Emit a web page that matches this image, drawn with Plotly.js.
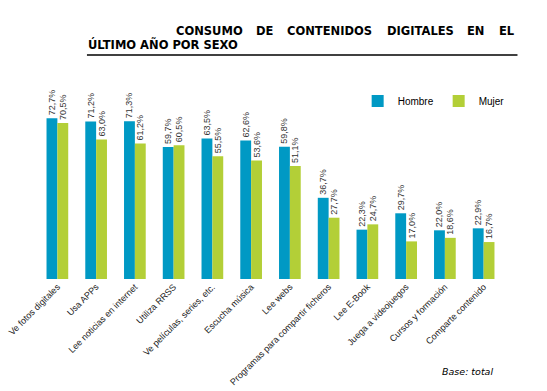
<!DOCTYPE html>
<html>
<head>
<meta charset="utf-8">
<script src="https://cdn.plot.ly/plotly-3.0.1.min.js"></script>
<style>html,body{margin:0;padding:0;background:#fff;}#chart{width:547px;height:391px;}</style>
</head>
<body>
<div id="chart"></div>
<script>
const categories = [
  "Ve fotos digitales",
  "Usa APPs",
  "Lee noticias en internet",
  "Utiliza RRSS",
  "Ve películas, series, etc.",
  "Escucha música",
  "Lee webs",
  "Programas para compartir ficheros",
  "Lee E-Book",
  "Juega a videojuegos",
  "Cursos y formación",
  "Comparte contenido"
];
const hombre = [72.7, 71.2, 71.3, 59.7, 63.5, 62.6, 59.8, 36.7, 22.3, 29.7, 22.0, 22.9];
const mujer  = [70.5, 63.0, 61.2, 60.5, 55.5, 53.6, 51.1, 27.7, 24.7, 17.0, 18.6, 16.7];
const seriesNames = ["Hombre", "Mujer"];
const titleWords = ["CONSUMO", "DE", "CONTENIDOS", "DIGITALES", "EN", "EL"];
const titleLine2 = "ÚLTIMO AÑO POR SEXO";
const baseNote = "Base: total";

const colHombre = "#0099c4";
const colMujer = "#b3cf37";
const titleFont = "DejaVu Sans";

const L = 38, R = 43.5, T = 102, B = 112, W = 547, H = 391;
const plotW = W - L - R, plotH = H - T - B;
const px = x => (x - L) / plotW;
const py = y => (H - B - y) / plotH;

function barTrace(name, vals, color) {
  return {
    type: "bar",
    name: name,
    x: categories,
    y: vals,
    marker: {color: color, line: {width: 0}},
    texttemplate: "%{y:.1f}%",
    textposition: "outside",
    textangle: -90,
    constraintext: "none",
    cliponaxis: false,
    textfont: {family: "Liberation Sans", size: 9, color: "#333333"},
    hoverinfo: "x+y"
  };
}

const data = [
  barTrace(seriesNames[0], hombre, colHombre),
  barTrace(seriesNames[1], mujer, colMujer)
];

const wordX = [175, 255, 286, 386, 466, 517];
const annotations = titleWords.map((w, i) => ({
  text: "<b>" + w + "</b>",
  xref: "paper", yref: "paper",
  x: px(wordX[i]), y: py(31),
  xanchor: i === titleWords.length - 1 ? "right" : "left",
  yanchor: "middle",
  showarrow: false,
  borderpad: 0,
  font: {family: titleFont, size: 11.5, color: "#000000"}
}));
annotations.push({
  text: "<b>" + titleLine2 + "</b>",
  xref: "paper", yref: "paper",
  x: px(87), y: py(45),
  xanchor: "left", yanchor: "middle",
  showarrow: false, borderpad: 0,
  font: {family: titleFont, size: 11.5, color: "#000000"}
});
annotations.push({
  text: "<i>" + baseNote + "</i>",
  xref: "paper", yref: "paper",
  x: px(494), y: py(371),
  xanchor: "right", yanchor: "middle",
  showarrow: false, borderpad: 0,
  font: {family: titleFont, size: 9.5, color: "#000000"}
});

const layout = {
  width: W, height: H,
  margin: {l: L, r: R, t: T, b: B, pad: 0},
  paper_bgcolor: "#ffffff",
  plot_bgcolor: "#ffffff",
  separators: ",.",
  barmode: "group",
  bargap: 0.44,
  bargroupgap: 0,
  showlegend: true,
  legend: {
    orientation: "h",
    x: px(358), y: py(101),
    xanchor: "left", yanchor: "middle",
    font: {family: "Liberation Sans", size: 10, color: "#000000"},
    itemwidth: 30,
    bgcolor: "rgba(0,0,0,0)",
    borderwidth: 0
  },
  xaxis: {
    type: "category",
    tickangle: -45,
    ticks: "",
    showline: false,
    showgrid: false,
    zeroline: false,
    tickfont: {family: "Liberation Sans", size: 9, color: "#222222"},
    fixedrange: true
  },
  yaxis: {
    range: [0, 80],
    visible: false,
    showgrid: false,
    zeroline: false,
    fixedrange: true
  },
  shapes: [{
    type: "line", xref: "paper", yref: "paper",
    x0: px(87), x1: px(518), y0: py(55), y1: py(55),
    line: {color: "#000000", width: 1.5}
  }],
  annotations: annotations
};

Plotly.newPlot("chart", data, layout, {displayModeBar: false, staticPlot: true});
</script>
</body>
</html>
